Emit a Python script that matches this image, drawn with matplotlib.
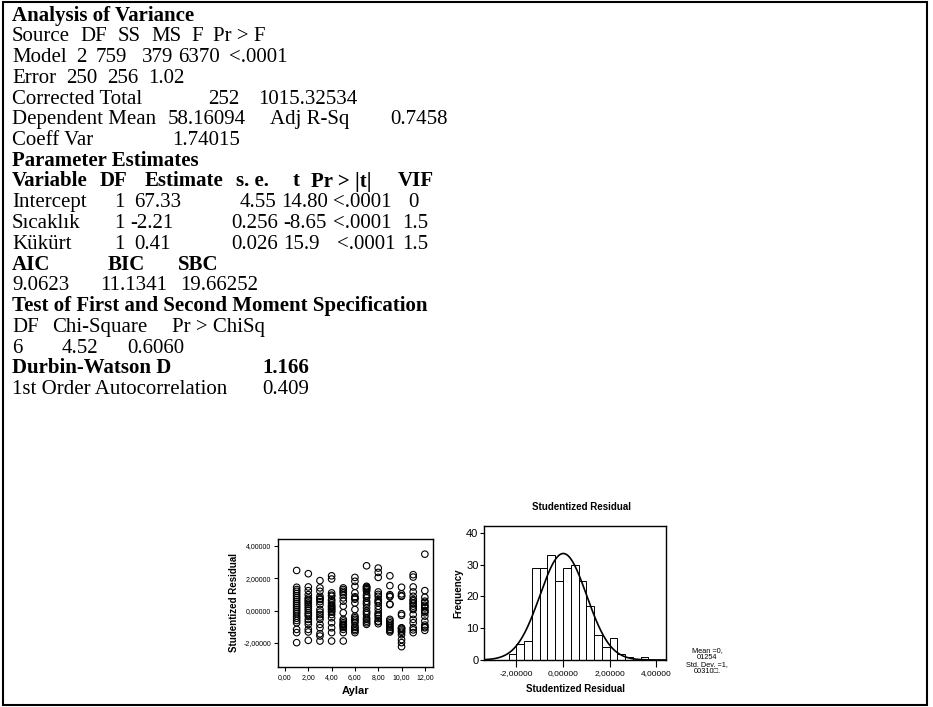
# SAS output + residual plots

import numpy as np
import matplotlib.pyplot as plt
from matplotlib.patches import Rectangle
from matplotlib.ticker import FuncFormatter

W, H = 933, 707

# ---- regression output text ----
anova_title = ["Analysis of Variance"]
anova_header = ["Source", "DF", "SS", "MS", "F", "Pr > F"]
anova_model = ["Model", "2", "759", "379", "6370", "<.0001"]
anova_error = ["Error", "250", "256", "1.02"]
anova_total = ["Corrected Total", "252", "1015.32534"]
fit_stats = ["Dependent Mean", "58.16094", "Adj R-Sq", "0.7458"]
coeff_var = ["Coeff Var", "1.74015"]
param_title = ["Parameter Estimates"]
param_header = ["Variable", "DF", "Estimate", "s. e.", "t", "Pr > |t|", "VIF"]
param_intercept = ["Intercept", "1", "67.33", "4.55", "14.80", "<.0001", "0"]
param_sicaklik = ["Sıcaklık", "1", "-2.21", "0.256", "-8.65", "<.0001", "1.5"]
param_kukurt = ["Kükürt", "1", "0.41", "0.026", "15.9", "<.0001", "1.5"]
ic_names = ["AIC", "BIC", "SBC"]
ic_values = ["9.0623", "11.1341", "19.66252"]
spec_title = ["Test of First and Second Moment Specification"]
spec_header = ["DF", "Chi-Square", "Pr > ChiSq"]
spec_values = ["6", "4.52", "0.6060"]
dw_stat = ["Durbin-Watson D", "1.166"]
autocorr = ["1st Order Autocorrelation", "0.409"]

# studentized residuals per month (Aylar 1..12)
months = [1, 2, 3, 4, 5, 6, 7, 8, 9, 10, 11, 12]
resid_by_month = [
    [2.48, 1.44, 1.30, 1.19, 1.05, 0.92, 0.80, 0.68, 0.55, 0.42, 0.30, 0.18,
     0.05, -0.08, -0.20, -0.35, -0.48, -0.62, -0.76, -1.17, -1.37, -1.99],
    [2.28, 1.46, 1.23, 0.98, 0.78, 0.68, 0.58, 0.47, 0.37, 0.25, 0.12, 0.00,
     -0.14, -0.25, -0.35, -0.55, -0.70, -0.86, -1.17, -1.33, -1.85],
    [1.85, 1.40, 1.19, 0.88, 0.75, 0.68, 0.55, 0.37, 0.06, -0.10, -0.25,
     -0.40, -0.55, -0.86, -1.07, -1.44, -1.58, -1.89],
    [2.15, 1.95, 1.09, 0.95, 0.88, 0.68, 0.60, 0.47, 0.35, 0.27, 0.20, 0.12,
     0.05, -0.04, -0.10, -0.25, -0.45, -0.76, -1.07, -1.37, -1.89],
    [1.40, 1.30, 1.19, 1.10, 0.98, 0.78, 0.58, 0.27, -0.14, -0.55, -0.65,
     -0.76, -0.85, -0.90, -0.96, -1.05, -1.17, -1.37, -1.89],
    [2.05, 1.81, 1.50, 1.09, 0.85, 0.78, 0.70, 0.47, 0.06, -0.35, -0.45,
     -0.55, -0.65, -0.76, -0.96, -1.05, -1.17, -1.25, -1.37],
    [2.77, 1.50, 1.45, 1.40, 1.35, 1.29, 1.19, 0.98, 0.88, 0.78, 0.58, 0.47,
     0.37, 0.16, -0.04, -0.14, -0.25, -0.45, -0.55, -0.66, -0.76, -0.86],
    [2.63, 2.36, 2.05, 1.15, 1.00, 0.88, 0.68, 0.55, 0.47, 0.27, 0.06, -0.14,
     -0.25, -0.35, -0.50, -0.66, -0.70, -0.82],
    [2.15, 1.54, 0.98, 0.90, 0.85, 0.40, 0.37, -0.55, -0.65, -0.76, -0.85,
     -0.96, -1.05, -1.17, -1.25, -1.33],
    [1.44, 1.03, 0.92, 0.88, -0.20, -0.30, -1.07, -1.10, -1.17, -1.27, -1.35,
     -1.50, -1.80, -1.99, -2.24],
    [2.22, 2.07, 1.46, 1.15, 0.88, 0.68, 0.60, 0.47, 0.40, 0.27, 0.15, 0.06,
     -0.25, -0.55, -0.76, -1.07, -1.20, -1.37],
    [3.49, 1.23, 0.82, 0.58, 0.50, 0.33, 0.25, 0.16, 0.00, -0.05, -0.14,
     -0.35, -0.66, -0.90, -1.00, -1.07, -1.23],
]

# histogram of studentized residuals (bins of width 1/3)
bin_lo = -7 / 3
bin_w = 1 / 3
counts = [2, 5, 6, 29, 29, 33, 25, 29, 30, 25, 17, 8, 4, 7, 2, 1, 0, 1]
res_mean = 0.01254
res_sd = 1.00310
n_obs = 253
hist_note = "Mean =0,\n01254\nStd. Dev. =1,\n00310\u25a1."

fig = plt.figure(figsize=(W / 100, H / 100), dpi=100)

# outer frame
fig.add_artist(Rectangle((3 / W, 1 - 705 / H), 924 / W, 703 / H,
                         transform=fig.transFigure, fill=False,
                         edgecolor="black", linewidth=1.5))

# line layout: (segments, x pixel of each segment, bold)
layout = [
    (anova_title, [12], True),
    (anova_header, [12, 80, 118, 151, 191, 213], False),
    (anova_model, [12, 76, 96, 142, 178, 229], False),
    (anova_error, [12, 66, 107, 148], False),
    (anova_total, [12, 208, 258], False),
    (fit_stats, [12, 168, 270, 390], False),
    (coeff_var, [12, 172], False),
    (param_title, [12], True),
    (param_header, [12, 100, 145, 236, 293, 311, 398], True),
    (param_intercept, [12, 114, 134, 240, 281, 333, 408], False),
    (param_sicaklik, [12, 114, 130, 231, 283, 333, 402], False),
    (param_kukurt, [12, 114, 134, 231, 283, 337, 402], False),
    (ic_names, [12, 108, 178], True),
    (ic_values, [12, 100, 180], False),
    (spec_title, [12], True),
    (spec_header, [12, 52, 172], False),
    (spec_values, [12, 62, 127], False),
    (dw_stat, [12, 262], True),
    (autocorr, [12, 262], False),
]

serif = ["Liberation Serif", "DejaVu Serif"]
for i, (segs, xpos, bold) in enumerate(layout):
    y = 20.5 + 20.75 * i
    for s, x in zip(segs, xpos):
        fig.text(x / W, 1 - y / H, s, family=serif, fontsize=15,
                 weight="bold" if bold else "normal", va="baseline", ha="left")

sans = ["Liberation Sans", "DejaVu Sans"]
comma = lambda d: FuncFormatter(lambda v, p: f"{v:.{d}f}".replace(".", ","))

# scatter: residual vs month
ax1 = fig.add_axes([278 / W, 1 - 667 / H, 155 / W, 128 / H])
xs = [m for m, vals in zip(months, resid_by_month) for _ in vals]
ys = [v for vals in resid_by_month for v in vals]
ax1.scatter(xs, ys, s=22, facecolors="none", edgecolors="black", linewidths=0.8)
ax1.set_xlim(-0.6, 12.7)
ax1.set_ylim(-3.5, 4.43)
ax1.set_xticks(range(0, 13, 2))
ax1.set_yticks([-2, 0, 2, 4])
ax1.xaxis.set_major_formatter(comma(2))
ax1.yaxis.set_major_formatter(comma(5))
ax1.tick_params(length=3, width=0.8, labelsize=5, pad=2)
for lab in ax1.get_xticklabels() + ax1.get_yticklabels():
    lab.set_family(sans)
ax1.set_xlabel("Aylar", family=sans, fontsize=8, weight="bold", labelpad=4)
ax1.set_ylabel("Studentized Residual", family=sans, fontsize=7, weight="bold", labelpad=3)
for s in ax1.spines.values():
    s.set_linewidth(1.0)

# histogram with normal curve
ax2 = fig.add_axes([484 / W, 1 - 660 / H, 182 / W, 134 / H])
lefts = bin_lo + bin_w * np.arange(len(counts))
ax2.bar(lefts, counts, width=bin_w, align="edge", facecolor="white",
        edgecolor="black", linewidth=0.7)
xc = np.linspace(-3.39, 4.42, 400)
yc = n_obs * bin_w * np.exp(-0.5 * ((xc - res_mean) / res_sd) ** 2) / (res_sd * np.sqrt(2 * np.pi))
ax2.plot(xc, yc, color="black", linewidth=1.2)
ax2.set_xlim(-3.39, 4.42)
ax2.set_ylim(0, 42.2)
ax2.set_xticks([-2, 0, 2, 4])
ax2.set_yticks([0, 10, 20, 30, 40])
ax2.xaxis.set_major_formatter(comma(5))
ax2.tick_params(axis="x", length=5, width=0.8, labelsize=6, pad=2)
ax2.tick_params(axis="y", length=3, width=0.8, labelsize=8, pad=1)
for lab in ax2.get_xticklabels() + ax2.get_yticklabels():
    lab.set_family(sans)
ax2.set_xlabel("Studentized Residual", family=sans, fontsize=7, weight="bold", labelpad=5)
ax2.set_ylabel("Frequency", family=sans, fontsize=7, weight="bold", labelpad=2)
for s in ax2.spines.values():
    s.set_linewidth(1.0)
fig.text(582 / W, 1 - 507 / H, "Studentized Residual", family=sans, fontsize=7,
         weight="bold", ha="center", va="center")
fig.text(707 / W, 1 - 661 / H, hist_note, family=sans, fontsize=5.3,
         ha="center", va="center", linespacing=0.95)

fig.savefig("out.png", dpi=100)
